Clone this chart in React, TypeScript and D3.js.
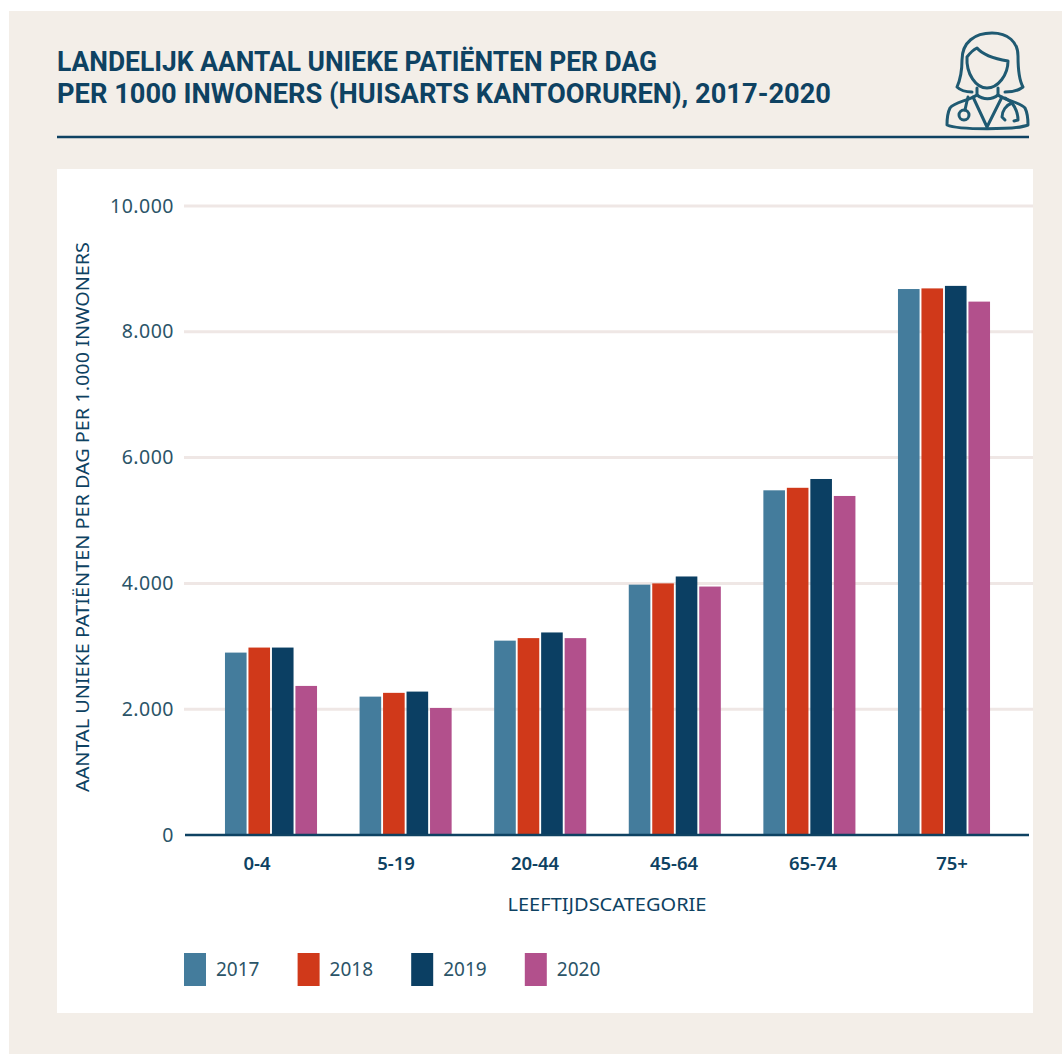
import React from 'react';
import * as d3 from 'd3';

const categories = ['0-4', '5-19', '20-44', '45-64', '65-74', '75+'];
const years = ['2017', '2018', '2019', '2020'];
const values2017 = [2900, 2200, 3090, 3980, 5480, 8680];
const values2018 = [2980, 2260, 3130, 4000, 5520, 8690];
const values2019 = [2980, 2280, 3220, 4110, 5660, 8730];
const values2020 = [2370, 2020, 3130, 3950, 5390, 8480];
const yTicks = [0, 2000, 4000, 6000, 8000, 10000];
const colors = ['#447c9c', '#d0391a', '#0b3f63', '#b2508c'];

const seriesValues = [values2017, values2018, values2019, values2020];
const navy = '#0e4262';
const font = "'Noto Sans', sans-serif";

const App = () => {
  const x = d3.scaleBand().domain(categories).range([203.7, 1011.3]).paddingInner(0.316).paddingOuter(0.158);
  const xInner = d3.scaleBand().domain(years).range([0, x.bandwidth()]).paddingInner(0.08);
  // the labels in the original do not sit under their bars, they run on a wider spacing
  const xLabel = d3.scalePoint().domain(categories).range([257, 952]);
  const y = d3.scaleLinear().domain([0, 10000]).range([835, 206]);
  const fmt = (v: number) => d3.format(',')(v).replace(/,/g, '.');

  return (
    <svg
      width={1062}
      height={1054}
      style={{ position: 'absolute', left: 0, top: 0, background: '#fff' }}
      fontFamily={font}
    >
      <rect x={9} y={11} width={1053} height={1043} fill="#f3eee8" />
      <rect x={57} y={169} width={976} height={844} fill="#fff" />

      <g fill={navy} fontWeight={700} fontSize={27} fontFamily="Roboto, sans-serif">
        <text x={57} y={70.5} textLength={600} lengthAdjust="spacingAndGlyphs">LANDELIJK AANTAL UNIEKE PATIËNTEN PER DAG</text>
        <text x={57} y={102.5} textLength={774} lengthAdjust="spacingAndGlyphs">PER 1000 INWONERS (HUISARTS KANTOORUREN), 2017-2020</text>
      </g>
      <line x1={57} x2={1029} y1={137} y2={137} stroke={navy} strokeWidth={2.5} />

      {/* doctor icon */}
      <g fill="none" stroke="#1f5a72" strokeWidth={3} strokeLinejoin="round" strokeLinecap="round">
        <path d="M972 92 C966 92 961 91 957 87 C961 78 962 70 962 60 C962 42 975 33 992 33 C1008 33 1018 42 1018 56 C1018 70 1019 80 1023 87 C1018 91 1012 92 1005 92" />
        <path d="M967 57 C970 53 973 50 977 48 C982 54 990 58 1008 61 C1008 75 998 88 987 88 C976 88 966 74 967 57 Z" />
        <path d="M977 88 L977 95 C968 101 954 102 950 108 C948 112 947 118 947 125 C958 130 1016 130 1028 125 C1028 118 1027 112 1025 108 C1020 102 1006 101 998 95 L998 88" />
        <path d="M973 97 L987 127 L1002 97" />
        <path d="M977 95 C983 100 992 100 998 95" />
        <path d="M968 97 C967 101 966 105 965 110" />
        <circle cx={964} cy={115} r={5} />
        <path d="M1005 98 C1008 100 1010 101 1012 103 C1015 107 1018 112 1018 120 L1014 121" />
        <path d="M1012 103 C1006 105 1002 111 1002 117 L1005 120" />
      </g>

      {yTicks.map((t) => (
        <g key={t}>
          {t > 0 && <line x1={184} x2={1033} y1={y(t)} y2={y(t)} stroke="#efe7e5" strokeWidth={3} />}
          <text x={174} y={y(t) + 6.5} textAnchor="end" fontSize={19.5} letterSpacing={0.5} fill="#2b5468">{fmt(t)}</text>
        </g>
      ))}

      {categories.map((c, i) => (
        <g key={c} transform={`translate(${x(c)},0)`}>
          {years.map((yr, j) => (
            <rect
              key={yr}
              x={xInner(yr)}
              y={y(seriesValues[j][i])}
              width={xInner.bandwidth()}
              height={y(0) - y(seriesValues[j][i])}
              fill={colors[j]}
            />
          ))}
        </g>
      ))}
      {categories.map((c) => (
        <text key={c} x={xLabel(c)} y={870} textAnchor="middle" fontSize={18.5} fontWeight={600} fill={navy}>{c}</text>
      ))}
      <line x1={185} x2={1029} y1={835} y2={835} stroke={navy} strokeWidth={2.5} />

      <text x={607} y={911} textAnchor="middle" fontSize={17.5} fill={navy} textLength={199} lengthAdjust="spacingAndGlyphs">LEEFTIJDSCATEGORIE</text>
      <text
        transform="translate(89,517) rotate(-90)"
        textAnchor="middle"
        fontSize={17.5}
        fill={navy}
        textLength={550}
        lengthAdjust="spacingAndGlyphs"
      >
        AANTAL UNIEKE PATIËNTEN PER DAG PER 1.000 INWONERS
      </text>

      {years.map((yr, j) => (
        <g key={yr} transform={`translate(${184 + j * 113.6},953)`}>
          <rect width={22} height={33} fill={colors[j]} />
          <text x={32} y={23} fontSize={19} fill="#2b5468">{yr}</text>
        </g>
      ))}
    </svg>
  );
};

export default App;
